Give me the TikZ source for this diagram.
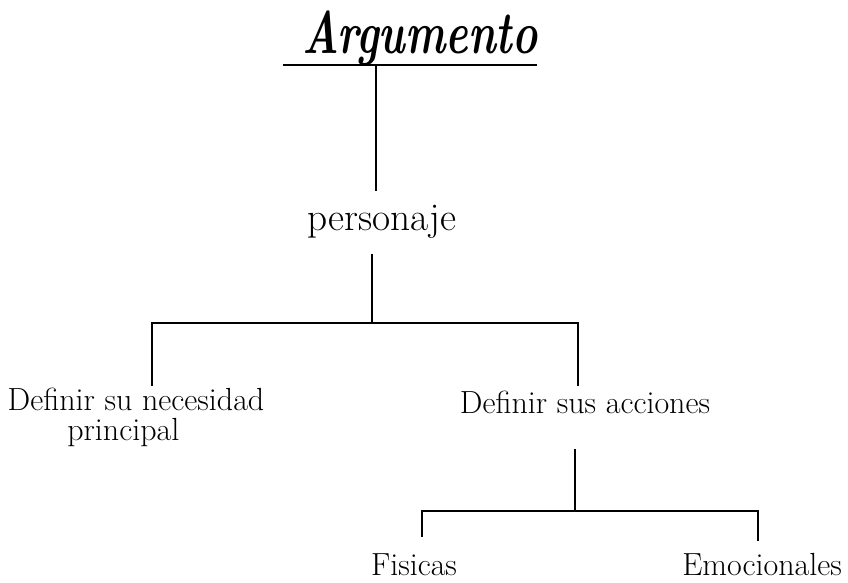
\documentclass[tikz,border=0pt]{standalone}
\begin{document}
\begin{tikzpicture}[x=0.75pt,y=-0.75pt,
  lbl/.style={anchor=base,inner sep=0pt,font=\fontsize{24}{22.5}\selectfont},
  conn/.style={line width=1.4pt,line cap=rect},
  ttl/.style={anchor=base,inner sep=0pt}]
\useasboundingbox[fill=white] (0,0) rectangle (848,582);
% title
\node[ttl] (title) at (420,53) {\scalebox{0.71}[1]{\fontsize{45}{45}\selectfont\bfseries\itshape Argumento}};
\draw[line width=2pt] (283,65) -- (537,65);
% nodes
\node[lbl] (pers) at (382,230) {\fontsize{29.5}{29.5}\selectfont personaje};
\node[lbl,align=center] (nec) at (136,440) {Definir su necesidad\\principal\hspace*{19pt}};
\node[lbl] (acc) at (585,413) {Definir sus acciones};
\node[lbl] (fis) at (414,575) {Fisicas};
\node[lbl] (emo) at (762,575) {Emocionales};
% junction coordinates
\coordinate (t0) at (376,66);
\coordinate (t1) at (376,190);
\coordinate (p0) at (372,255);
\coordinate (j1) at (372,323);
\coordinate (l1) at (152,323);
\coordinate (l2) at (152,385);
\coordinate (r1) at (578,323);
\coordinate (r2) at (578,385);
\coordinate (a0) at (575,450);
\coordinate (j2) at (575,511);
\coordinate (f1) at (422,511);
\coordinate (f2) at (422,536);
\coordinate (e1) at (758,511);
\coordinate (e2) at (758,540);
% connectors
\draw[conn] (t0) -- (t1);
\draw[conn] (p0) -- (j1);
\draw[conn] (l2) -- (l1) -- (r1) -- (r2);
\draw[conn] (a0) -- (j2);
\draw[conn] (f2) -- (f1) -- (e1) -- (e2);
\end{tikzpicture}
\end{document}
